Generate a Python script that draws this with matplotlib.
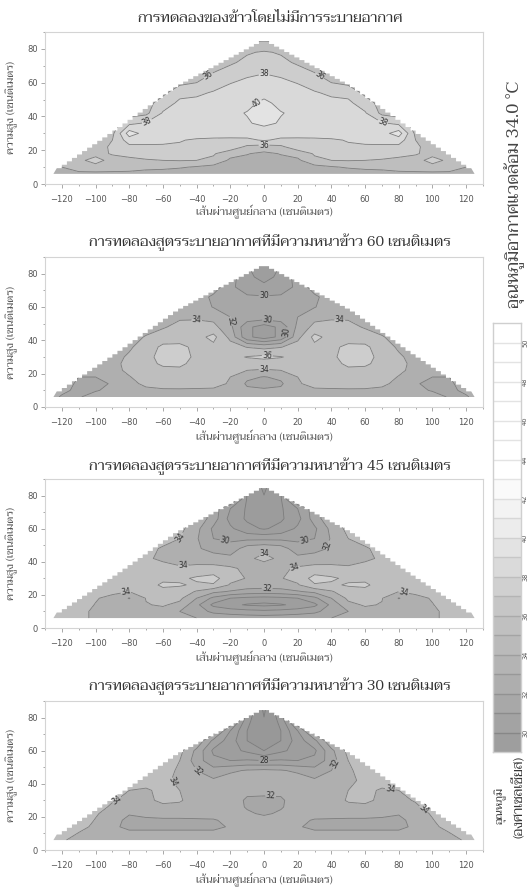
import numpy as np
import matplotlib
matplotlib.use('Agg')
import matplotlib.pyplot as plt
from matplotlib.patches import Polygon

plt.rcParams['font.family'] = ['Taviraj', 'Sarabun', 'DejaVu Sans']

W, H = 529, 891

# half of the section, x = 0 is the middle, the other side is the mirror image
xs = [0, 10, 20, 30, 40, 50, 60, 70, 80, 90, 100, 110, 120, 130]
ys = [6, 10, 14, 18, 22, 26, 30, 36, 42, 48, 54, 60, 66, 72, 78, 86]

roof_x = [0, 50, 85, 125]
roof_y = [84.5, 58, 33, 6]

levels = list(range(20, 54, 2))
band_greys = [148, 152, 156, 158, 162, 167, 175, 190, 205, 217, 227, 236, 243, 250, 255, 255]

titles = ['การทดลองของข้าวโดยไม่มีการระบายอากาศ',
          'การทดลองสูตรระบายอากาศที่มีความหนาข้าว 60 เซนติเมตร',
          'การทดลองสูตรระบายอากาศที่มีความหนาข้าว 45 เซนติเมตร',
          'การทดลองสูตรระบายอากาศที่มีความหนาข้าว 30 เซนติเมตร']
xlabel = 'เส้นผ่านศูนย์กลาง (เซนติเมตร)'
ylabel = 'ความสูง (เซนติเมตร)'

temp_none = [
    [32.2, 32.3, 32.4, 32.6, 32.8, 32.9, 33, 33, 33.5, 33.5, 33.5, 33.5, 33.8, 33.8],
    [32.5, 32.6, 32.8, 33.3, 33.8, 34.2, 34.5, 34.7, 34.8, 35, 35.2, 35, 34, 34],
    [33.3, 33.5, 33.6, 35.6, 36, 36.1, 36, 35.8, 35.5, 35.2, 36.8, 35.5, 34.5, 34.5],
    [33.6, 34.1, 34.8, 36.2, 36.8, 37, 37, 37, 36.6, 36.2, 35.3, 35, 35, 35],
    [35.2, 35.6, 37.2, 37.5, 37.6, 37.8, 37.7, 37.7, 37.5, 36.2, 35.5, 35, 35, 35],
    [38.2, 37.6, 37.6, 37.7, 37.8, 38.1, 38.5, 38.6, 39, 36, 35.2, 35, 35, 35],
    [38.8, 38.9, 38.8, 38.7, 38.8, 39, 39, 39.2, 41, 35.5, 35, 35, 35, 35],
    [40.5, 39.8, 39.6, 39.4, 39.3, 39.2, 39, 38.2, 37.5, 35, 35, 35, 35, 35],
    [41, 40.1, 39.6, 39.4, 39.2, 39, 38.2, 35.5, 35, 35, 35, 35, 35, 35],
    [40.4, 39.5, 39.3, 39, 38.6, 38.4, 37, 35.2, 35, 35, 35, 35, 35, 35],
    [39.4, 39.2, 38.9, 38.2, 37.6, 37.4, 35.5, 35, 35, 35, 35, 35, 35, 35],
    [38.7, 38.5, 37.9, 37, 36, 35.5, 35, 35, 35, 35, 35, 35, 35, 35],
    [37.9, 37.5, 36.8, 36, 35, 35, 35, 35, 35, 35, 35, 35, 35, 35],
    [37, 36.5, 35.7, 35, 35, 35, 35, 35, 35, 35, 35, 35, 35, 35],
    [36.2, 35.8, 35, 35, 35, 35, 35, 35, 35, 35, 35, 35, 35, 35],
    [33.5, 33.5, 33.5, 33.5, 33.5, 33.5, 33.5, 33.5, 33.5, 33.5, 33.5, 33.5, 33.5, 33.5],
]

temp_60 = [
    [33, 33, 33, 33, 33, 33, 33, 33, 33, 33, 33, 31.8, 31.8, 33],
    [32.3, 32.4, 33.7, 33.7, 33.7, 33.7, 33.7, 33.7, 33, 32.6, 31.8, 31.6, 32.4, 33],
    [31.3, 31.7, 33.8, 34.6, 34.8, 35, 34.9, 34.3, 33.6, 32.2, 31.4, 31.6, 33, 33],
    [31.9, 32.4, 34, 35, 35.1, 35.3, 35.1, 34.8, 33.9, 32.8, 32, 32, 33, 33],
    [33.8, 34, 34.6, 35.2, 35.3, 35.7, 35.4, 35, 34.4, 33.4, 33, 33, 33, 33],
    [35, 35.1, 35.3, 35.4, 35.5, 36.3, 36.4, 35.2, 34.5, 33.5, 33, 33, 33, 33],
    [36.5, 36.1, 35.5, 35.4, 35.6, 36.8, 36.8, 35.3, 34.3, 33.3, 33, 33, 33, 33],
    [33.4, 33.9, 34.9, 35.5, 35.6, 36.4, 36.4, 35, 33.7, 33, 33, 33, 33, 33],
    [27, 28.5, 33.4, 36.6, 35.3, 35.2, 35, 34.2, 33, 33, 33, 33, 33, 33],
    [27, 28.5, 32.5, 34.6, 35, 34.6, 33.8, 33, 33, 33, 33, 33, 33, 33],
    [31.2, 31.3, 32, 33.4, 33.6, 33.7, 33, 33, 33, 33, 33, 33, 33, 33],
    [31, 31.1, 31.6, 31.9, 33, 33, 33, 33, 33, 33, 33, 33, 33, 33],
    [30.2, 30.4, 31, 31.6, 33, 33, 33, 33, 33, 33, 33, 33, 33, 33],
    [28.3, 28.6, 30.6, 33, 33, 33, 33, 33, 33, 33, 33, 33, 33, 33],
    [27.6, 28.3, 31, 33, 33, 33, 33, 33, 33, 33, 33, 33, 33, 33],
    [27.5, 28, 31, 33, 33, 33, 33, 33, 33, 33, 33, 33, 33, 33],
]

temp_45 = [
    [31, 31.1, 31.3, 31.5, 32, 32.5, 32.8, 33, 33, 33, 33.6, 34.6, 35, 35],
    [28.5, 28.7, 29, 29.5, 31, 32, 33.4, 33.3, 33.2, 33.2, 33.6, 34.6, 35, 35],
    [25.5, 25.8, 26.5, 27.5, 30.5, 33.5, 34.2, 33.9, 33, 33.2, 33.9, 35, 35, 35],
    [27.3, 27.5, 28, 29.5, 32, 34.4, 35, 34.1, 31.9, 33.3, 34.2, 35, 35, 35],
    [31, 31.2, 31.8, 32.5, 33.8, 35.2, 35.5, 35, 34, 34.6, 35, 35, 35, 35],
    [33, 33.1, 33.8, 35.8, 35.7, 36.2, 36.3, 35.3, 35, 35, 35, 35, 35, 35],
    [33.9, 33.9, 34.6, 36.8, 36.3, 35.6, 35.6, 35, 35, 35, 35, 35, 35, 35],
    [33.2, 33.6, 34.3, 34.6, 34.5, 34.3, 34.8, 35, 35, 35, 35, 35, 35, 35],
    [34.4, 33.7, 32.6, 33, 33.2, 33.2, 33.6, 34.3, 35, 35, 35, 35, 35, 35],
    [33.6, 33, 30.8, 31.2, 32.3, 33.2, 33.7, 34.8, 35, 35, 35, 35, 35, 35],
    [29.5, 29.5, 29.6, 30, 32.2, 34, 35, 35, 35, 35, 35, 35, 35, 35],
    [25.8, 26.6, 28.4, 29.6, 32.6, 34.6, 35, 35, 35, 35, 35, 35, 35, 35],
    [25.5, 25.7, 27.3, 31, 33.6, 35, 35, 35, 35, 35, 35, 35, 35, 35],
    [25.5, 25.7, 28, 31, 33.8, 35, 35, 35, 35, 35, 35, 35, 35, 35],
    [24.2, 25.8, 33, 35, 35, 35, 35, 35, 35, 35, 35, 35, 35, 35],
    [23.5, 26, 34, 35, 35, 35, 35, 35, 35, 35, 35, 35, 35, 35],
]

temp_30 = [
    [33, 33, 33, 33, 33, 33, 33, 33, 33, 33, 33, 33.2, 34.3, 35],
    [33, 33, 33, 33, 33, 33, 33, 33, 33, 33, 33.2, 33.9, 35, 35],
    [33, 33, 32.4, 31, 31, 31, 31, 31, 31, 32.8, 33.6, 34.6, 35, 35],
    [32.8, 32.8, 32.6, 31.8, 31.7, 31.6, 31.6, 31.3, 31.3, 33, 33.9, 35, 35, 35],
    [31.7, 32.3, 33, 33, 33, 33, 33, 33, 32.2, 33.2, 34.2, 35, 35, 35],
    [31.6, 31.8, 33, 33, 33, 33.5, 33.6, 33.2, 33, 33.6, 35, 35, 35, 35],
    [31.6, 31.7, 33, 33, 33.1, 34.2, 34.4, 33.6, 33.4, 34.2, 35, 35, 35, 35],
    [32.5, 32.5, 33, 33, 33.2, 34, 34.6, 33.7, 34, 35, 35, 35, 35, 35],
    [33, 33, 33.1, 32.3, 33.2, 33.8, 34.2, 35, 35, 35, 35, 35, 35, 35],
    [32.4, 32.2, 31.6, 30.8, 32, 33.6, 35, 35, 35, 35, 35, 35, 35, 35],
    [28, 28.2, 28, 28.5, 31, 34, 35, 35, 35, 35, 35, 35, 35, 35],
    [24, 25.6, 26.7, 27.6, 31.5, 34.6, 35, 35, 35, 35, 35, 35, 35, 35],
    [23, 24, 27, 29.5, 33.7, 35, 35, 35, 35, 35, 35, 35, 35, 35],
    [23, 24, 28, 33, 35, 35, 35, 35, 35, 35, 35, 35, 35, 35],
    [22.2, 24.5, 32, 35, 35, 35, 35, 35, 35, 35, 35, 35, 35, 35],
    [21.5, 26, 35, 35, 35, 35, 35, 35, 35, 35, 35, 35, 35, 35],
]

label_pts_none = [(-33, 64), (33, 64), (0, 65), (-4, 48), (-68, 35), (70, 35), (0, 23)]
label_pts_60 = [(-40, 52), (45, 52), (0, 66), (-17, 52), (2, 51), (14, 45), (2, 32), (0, 23)]
label_pts_45 = [(-45, 53), (-23, 53), (24, 53), (42, 49), (0, 45), (-48, 38), (18, 37), (2, 27), (-82, 22), (83, 22)]
label_pts_30 = [(0, 54), (-40, 47), (42, 52), (-56, 40), (-88, 31), (75, 37), (95, 25), (4, 34)]

temps = [temp_none, temp_60, temp_45, temp_30]
label_pts = [label_pts_none, label_pts_60, label_pts_45, label_pts_30]

# frame of each panel in pixels: left, top, right, bottom
frames = [(45, 32, 483, 184), (45, 257, 483, 407), (45, 479, 483, 628), (45, 701, 483, 850)]
title_y = [18, 242, 466, 686]
xlabel_y = [212, 437, 658, 880]

# colour bar, white at the top
bar_edges = list(range(29, 52))
bar_greys = [158, 163, 168, 174, 180, 186, 192, 198, 208, 218, 227, 236, 243, 250, 255, 255, 255, 255, 255, 255, 255, 255]
bar_ticks = list(range(30, 52, 2))


def grey(v):
    return '#%02x%02x%02x' % (v, v, v)


def px_axes(fig, left, top, right, bottom):
    return fig.add_axes([left / W, 1 - bottom / H, (right - left) / W, (bottom - top) / H])


def stair_roof():
    # the section edge is stepped in the original
    sx = np.arange(0, roof_x[-1], 3)
    sy = np.interp(sx, roof_x, roof_y)
    right = []
    for i in range(len(sx) - 1):
        right.append((sx[i], sy[i]))
        right.append((sx[i + 1], sy[i]))
    right.append((roof_x[-1], roof_y[-1]))
    left = [(-a, b) for a, b in right[::-1]]
    return left + right


fig = plt.figure(figsize=(W / 100, H / 100), dpi=100)
text_col = '#555555'
frame_col = '#d4d4d4'
tick_col = '#9a9a9a'

X = np.array([-x for x in xs[:0:-1]] + xs)
Y = np.array(ys)

for i in range(4):
    left, top, right, bottom = frames[i]
    ax = px_axes(fig, left, top, right, bottom)
    half = np.array(temps[i])
    Z = np.hstack([half[:, :0:-1], half])

    cf = ax.contourf(X, Y, Z, levels=levels, colors=[grey(v) for v in band_greys])
    cl = ax.contour(X, Y, Z, levels=levels, colors='#7c7c7c', linewidths=0.6)
    clip = Polygon(stair_roof(), closed=True, transform=ax.transData)
    cf.set_clip_path(clip)
    cl.set_clip_path(clip)
    texts = ax.clabel(cl, fmt='%d', fontsize=5.5, inline=True, inline_spacing=1, manual=label_pts[i])
    for t in texts:
        t.set_color('#333333')
        t.set_fontfamily(['DejaVu Sans'])

    ax.set_xlim(-129, 130)
    ax.set_ylim(0, 90)
    ax.set_xticks(range(-120, 121, 20))
    ax.set_xticks(range(-130, 131, 10), minor=True)
    ax.set_yticks(range(0, 81, 20))
    ax.set_yticks(range(0, 91, 10), minor=True)
    ax.tick_params(which='both', direction='out', color=tick_col, width=0.6, labelcolor=text_col, labelsize=6)
    ax.tick_params(which='major', length=3)
    ax.tick_params(which='minor', length=1.5)
    ax.tick_params(axis='x', which='major', pad=5)
    ax.tick_params(axis='y', which='major', pad=2)
    for lab in ax.get_xticklabels() + ax.get_yticklabels():
        lab.set_fontfamily(['DejaVu Sans'])
    for s in ax.spines.values():
        s.set_color(frame_col)
        s.set_linewidth(0.8)

    fig.text(270 / W, 1 - title_y[i] / H, titles[i], ha='center', va='center', fontsize=10.7, color='#333333')
    fig.text(264 / W, 1 - xlabel_y[i] / H, xlabel, ha='center', va='center', fontsize=8, color=text_col)
    fig.text(12 / W, 1 - (top + bottom) / 2 / H, ylabel, ha='center', va='center', rotation=90, fontsize=8, color=text_col)

# colour bar
cax = px_axes(fig, 493, 323, 521, 752)
for j, g in enumerate(bar_greys):
    cax.bar(0.5, 1, width=1, bottom=bar_edges[j], color=grey(g), edgecolor='none')
    if j > 0:
        cax.axhline(bar_edges[j], color=grey(max(g - 28, 0)), lw=1)
cax.set_xlim(0, 1)
cax.set_ylim(bar_edges[0], bar_edges[-1])
cax.set_xticks([])
cax.yaxis.tick_right()
cax.set_yticks(bar_ticks)
cax.set_yticklabels([str(v) for v in bar_ticks], rotation=90, va='center', family=['DejaVu Sans'])
cax.tick_params(axis='y', length=0, pad=0.8, labelsize=4.8, labelcolor=text_col)
for s in cax.spines.values():
    s.set_color('#cfcfcf')
    s.set_linewidth(1)

fig.text(515 / W, 1 - 194 / H, 'อุณหภูมิอากาศแวดล้อม 34.0 °C', rotation=90, ha='center', va='center', fontsize=12.5, color='#444444')
fig.text(501 / W, 1 - 806 / H, 'อุณหภูมิ', rotation=90, ha='center', va='center', fontsize=8, color='#333333')
fig.text(519 / W, 1 - 797 / H, '(องศาเซลเซียส)', rotation=90, ha='center', va='center', fontsize=9.5, color='#333333')

fig.savefig('out.png', dpi=100)
